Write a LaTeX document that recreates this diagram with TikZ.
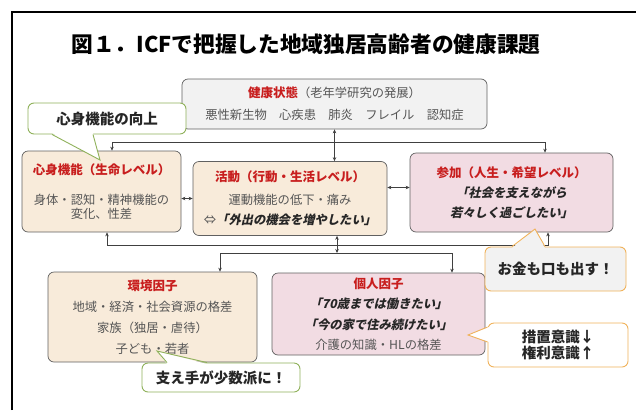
\documentclass[tikz,border=0pt]{standalone}
\usepackage{fontspec}
\setmainfont{Noto Sans CJK JP}
\newfontfamily\jpslant[FakeSlant=0.22]{Noto Sans CJK JP}
\usetikzlibrary{positioning}
\usetikzlibrary{calc}
\usetikzlibrary{arrows.meta}

\definecolor{beige}{HTML}{F8EBDA}
\definecolor{rosa}{HTML}{F2DCE3}
\definecolor{grisbox}{HTML}{F2F2F2}
\definecolor{rojo}{HTML}{C81E1E}
\definecolor{verde}{HTML}{8FB15A}
\definecolor{naranja}{HTML}{F0B25A}
\definecolor{textgris}{HTML}{555555}

\newcommand{\titr}[1]{{\color{rojo}\fontsize{12.5}{15}\selectfont\bfseries #1}}
\newcommand{\cita}[1]{{\color{black!85}\jpslant\bfseries #1}}

\begin{document}
\begin{tikzpicture}[x=1pt, y=-1pt,
    caja/.style n args={3}{draw=gray!75!black, line width=0.7pt, rounded corners=6pt,
      fill=#1, minimum width=#2, minimum height=#3, inner sep=0pt, align=center,
      text=textgris, font=\fontsize{12.3}{14}\selectfont},
    globo/.style n args={4}{draw=#1, fill=#2, line width=0.9pt, rounded corners=6pt,
      minimum width=#3, minimum height=#4, inner sep=0pt, align=center,
      text=black!85, font=\fontsize{14.5}{16}\selectfont\bfseries},
    flecha/.style={draw=black!75, line width=0.6pt, >={Stealth[length=4pt,width=3.5pt]}}]
  \useasboundingbox (0,0) rectangle (636,410);

  % Marco
  \draw[line width=2.5pt] (12,410) -- (12,12) -- (636,12);

  % Titulo
  \node[font=\fontsize{21.7}{24}\selectfont\bfseries] (tit) at (306,44)
    {図１．ICFで把握した地域独居高齢者の健康課題};

  % Nodos
  \node[caja={grisbox}{305pt}{50pt}] (salud) at (334.5,104)
    {\titr{健康状態}（老年学研究の発展）\\[8pt]
     悪性新生物　心疾患　肺炎　フレイル　認知症};
  \node[caja={beige}{159pt}{81pt}] (cuerpo) at (101.5,191.5)
    {\titr{心身機能（生命レベル）}\\[16pt]
     身体・認知・精神機能の\\
     変化、性差};
  \node[caja={beige}{194pt}{74pt}] (act) at (290,198.5)
    {\titr{活動（行動・生活レベル）}\\[9pt]
     運動機能の低下・痛み\\[6pt]
     ⇔\cita{「外出の機会を増やしたい」}};
  \node[caja={rosa}{203pt}{79pt}] (part) at (511.5,192.5)
    {\titr{参加（人生・希望レベル）}\\[6pt]
     \cita{「社会を支えながら}\\[6pt]
     \cita{若々しく過ごしたい」}};
  \node[caja={beige}{209pt}{90pt}] (amb) at (152.5,317)
    {\titr{環境因子}\\[7pt]
     地域・経済・社会資源の格差\\[7pt]
     家族（独居・虐待）\\[7pt]
     子ども・若者};
  \node[caja={rosa}{213pt}{82pt}] (pers) at (378.5,314)
    {\titr{個人因子}\\[6.5pt]
     \cita{「70歳までは働きたい」}\\[6.5pt]
     \cita{「今の家で住み続けたい」}\\[6.5pt]
     介護の知識・HLの格差};

  % Aristas
  \coordinate (ja) at (112,142);
  \coordinate (jb) at (545,142);
  \coordinate (jc) at (107,245);
  \coordinate (jd) at (548,245);
  \coordinate (je) at (337,253);
  \coordinate (jf) at (220,253);
  \coordinate (jg) at (452,253);
  \draw[flecha, <->] (salud.south) -- (salud.south |- act.north);
  \draw[flecha, <->] (ja |- cuerpo.north) -- (ja) -- (jb) -- (jb |- part.north);
  \draw[flecha, <->] (jc |- cuerpo.south) -- (jc) -- (jd) -- (jd |- part.south);
  \draw[flecha, <->] (act.west) -- (act.west -| cuerpo.east);
  \draw[flecha, <->] ([yshift=5pt]part.west) -- ([yshift=5pt]part.west -| act.east);
  \draw[flecha, <->] (je |- act.south) -- (je);
  \draw[flecha, <->] (jf |- amb.north) -- (jf) -- (jg) -- (jg |- pers.north);

  % Globos
  \node[globo={verde}{white}{158pt}{31pt}] (mejora) at (107,118.5) {心身機能の向上};
  \coordinate (pmejora) at (100,160);
  \fill[white] ($(mejora.south)+(-55,-1.5)$) -- (pmejora) -- ($(mejora.south)+(-14,-1.5)$) -- cycle;
  \draw[verde, line width=0.9pt] ($(mejora.south)+(-55,0)$) -- (pmejora) -- ($(mejora.south)+(-14,0)$);

  \node[globo={naranja}{grisbox}{141pt}{44pt}] (dinero) at (555.5,269) {お金も口も出す！};
  \coordinate (pdinero) at (535,229);
  \fill[grisbox] ($(dinero.north)+(-43.5,1.5)$) -- (pdinero) -- ($(dinero.north)+(-10.5,1.5)$) -- cycle;
  \draw[naranja, line width=0.9pt] ($(dinero.north)+(-43.5,0)$) -- (pdinero) -- ($(dinero.north)+(-10.5,0)$);

  \node[globo={naranja}{white}{140pt}{44pt}] (sochi) at (558,345)
    {措置意識↓\\権利意識↑};
  \coordinate (psochi) at (468,335);
  \fill[white] ($(sochi.west)+(1.5,-18)$) -- (psochi) -- ($(sochi.west)+(1.5,-3)$) -- cycle;
  \draw[naranja, line width=0.9pt] ($(sochi.west)+(0,-18)$) -- (psochi) -- ($(sochi.west)+(0,-3)$);

  \node[globo={verde}{white}{158pt}{29pt}] (sasae) at (221,377.5) {支え手が少数派に！};
  \coordinate (psasae) at (157,351);
  \fill[white] ($(sasae.north)+(-54,1.5)$) -- (psasae) -- ($(sasae.north)+(-14,1.5)$) -- cycle;
  \draw[verde, line width=0.9pt] ($(sasae.north)+(-54,0)$) -- (psasae) -- ($(sasae.north)+(-14,0)$);
\end{tikzpicture}
\end{document}
